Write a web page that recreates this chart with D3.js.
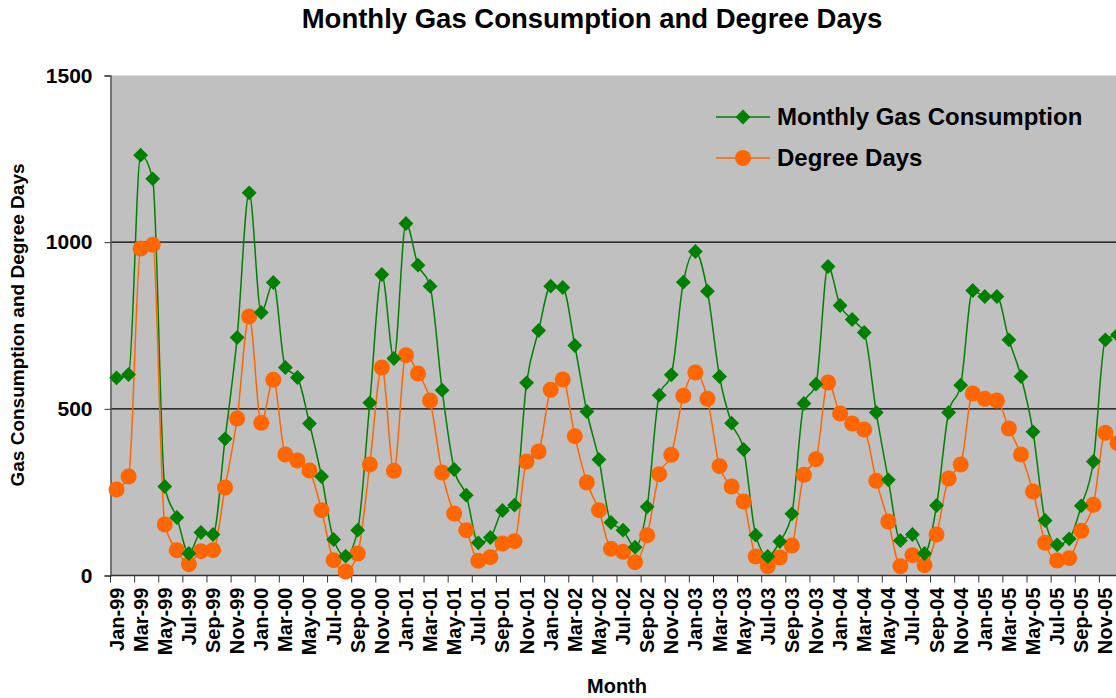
<!DOCTYPE html>
<html>
<head>
<meta charset="utf-8">
<script src="https://cdn.jsdelivr.net/npm/d3@7"></script>
<style>
  body { margin: 0; background: #fff; }
  svg text { font-family: "Liberation Sans Narrow", "Liberation Sans", Arial, sans-serif; font-weight: bold; }
</style>
</head>
<body>
<svg id="chart" width="1116" height="698"></svg>
<script>
// months Jan-99 .. Dec-05
var monthNames = ["Jan","Feb","Mar","Apr","May","Jun","Jul","Aug","Sep","Oct","Nov","Dec"];
var years = ["99","00","01","02","03","04","05"];
var months = [];
years.forEach(function(y){ monthNames.forEach(function(m){ months.push(m + "-" + y); }); });

// Monthly Gas Consumption
var gasValues = [
  593, 603, 1261, 1190, 267, 174, 66, 129, 123, 410, 714, 1148,
  789, 879, 624, 594, 456, 297, 108, 58, 136, 518, 903, 651,
  1056, 931, 868, 556, 318, 241, 98, 114, 195, 211, 578, 735,
  868, 864, 690, 492, 348, 159, 136, 85, 206, 541, 602, 880,
  972, 853, 597, 457, 378, 121, 57, 102, 185, 516, 574, 927,
  810, 768, 729, 489, 287, 105, 123, 66, 210, 489, 571, 855,
  837, 837, 707, 597, 431, 165, 92, 110, 209, 342, 707, 722
];

// Degree Days
var ddValues = [
  258, 297, 981, 992, 153, 76, 34, 73, 76, 264, 471, 777,
  458, 587, 363, 345, 315, 196, 46, 12, 66, 333, 624, 314,
  661, 606, 525, 309, 186, 136, 44, 55, 96, 103, 342, 372,
  557, 588, 418, 279, 196, 80, 71, 40, 121, 304, 362, 539,
  609, 530, 328, 267, 222, 57, 28, 54, 90, 302, 349, 579,
  486, 456, 438, 284, 162, 28, 61, 31, 123, 291, 333, 546,
  530, 525, 441, 363, 252, 98, 45, 52, 134, 212, 428, 397
];

var yTicks = [0, 500, 1000, 1500];
var seriesNames = ["Monthly Gas Consumption", "Degree Days"];
var gasColor = "#008000", ddColor = "#ff6600";

var svg = d3.select("#chart");
var plotL = 110.5, plotR = 1123.5, plotT = 75.5, plotB = 575.5;

var x = d3.scaleBand().domain(months).range([plotL, plotR]);
var y = d3.scaleLinear().domain([0, 1500]).range([plotB, plotT]);

// plot area
svg.append("rect")
  .attr("x", plotL).attr("y", plotT)
  .attr("width", plotR - plotL).attr("height", plotB - plotT)
  .attr("fill", "#c0c0c0");

// gridlines
svg.append("g").selectAll("line")
  .data([500, 1000])
  .enter().append("line")
  .attr("x1", plotL).attr("x2", plotR)
  .attr("y1", function(d){ return y(d); })
  .attr("y2", function(d){ return y(d); })
  .attr("stroke", "#000").attr("stroke-width", 1.2);

// y axis
var yAxis = svg.append("g")
  .attr("transform", "translate(" + plotL + ",0)")
  .call(d3.axisLeft(y).tickValues(yTicks).tickSize(6).tickPadding(12).tickFormat(d3.format("d")));
yAxis.select(".domain").attr("stroke", "#555").attr("stroke-width", 1.5);
yAxis.selectAll(".tick line").attr("stroke", "#333");
yAxis.selectAll("text").attr("font-size", 21).attr("fill", "#000");

// x axis: ticks between categories, every 2 months
var xg = svg.append("g").attr("transform", "translate(0," + plotB + ")");
xg.append("line").attr("x1", plotL).attr("x2", plotR).attr("stroke", "#333").attr("stroke-width", 1.5);
xg.selectAll("line.tk")
  .data(months.filter(function(d, i){ return i % 2 === 0; }))
  .enter().append("line")
  .attr("class", "tk")
  .attr("x1", function(d){ return x(d); })
  .attr("x2", function(d){ return x(d); })
  .attr("y1", 0).attr("y2", 7)
  .attr("stroke", "#333");
xg.selectAll("text")
  .data(months.filter(function(d, i){ return i % 2 === 0; }))
  .enter().append("text")
  .attr("transform", function(d){ return "translate(" + (x(d) + x.bandwidth() / 2 + 7) + ",12) rotate(-90)"; })
  .attr("text-anchor", "end")
  .attr("font-size", 20)
  .text(function(d){ return d; });

// lines
var cx = function(d, i){ return x(months[i]) + x.bandwidth() / 2; };
var line = d3.line().x(cx).y(function(d){ return y(d); }).curve(d3.curveMonotoneX);

svg.append("path").datum(gasValues)
  .attr("d", line).attr("fill", "none").attr("stroke", gasColor).attr("stroke-width", 1.5);
svg.append("path").datum(ddValues)
  .attr("d", line).attr("fill", "none").attr("stroke", ddColor).attr("stroke-width", 1.5);

// markers
var diamond = d3.symbol().type(d3.symbolSquare).size(110);
svg.append("g").selectAll("circle")
  .data(ddValues)
  .enter().append("circle")
  .attr("cx", cx)
  .attr("cy", function(d){ return y(d); })
  .attr("r", 8)
  .attr("fill", ddColor);
svg.append("g").selectAll("path")
  .data(gasValues)
  .enter().append("path")
  .attr("d", diamond)
  .attr("transform", function(d, i){ return "translate(" + cx(d, i) + "," + y(d) + ") rotate(45)"; })
  .attr("fill", gasColor);

// legend
var legend = svg.append("g");
var lg = legend.selectAll("g")
  .data(seriesNames)
  .enter().append("g")
  .attr("transform", function(d, i){ return "translate(716," + (117 + i * 41) + ")"; });
lg.append("line").attr("x1", 0).attr("x2", 54)
  .attr("stroke", function(d, i){ return i === 0 ? gasColor : ddColor; })
  .attr("stroke-width", 1.5);
lg.each(function(d, i){
  var g = d3.select(this);
  if (i === 0) {
    g.append("path").attr("d", diamond).attr("transform", "translate(27,0) rotate(45)").attr("fill", gasColor);
  } else {
    g.append("circle").attr("cx", 27).attr("r", 8).attr("fill", ddColor);
  }
});
lg.append("text").attr("x", 61).attr("y", 8).attr("font-size", 24).text(function(d){ return d; });

// titles
svg.append("text")
  .attr("x", 592).attr("y", 28)
  .attr("text-anchor", "middle").attr("font-size", 27.5)
  .text("Monthly Gas Consumption and Degree Days");
svg.append("text")
  .attr("transform", "translate(24,325) rotate(-90)")
  .attr("text-anchor", "middle").attr("font-size", 19)
  .text("Gas Consumption and Degree Days");
svg.append("text")
  .attr("x", 617).attr("y", 693)
  .attr("text-anchor", "middle").attr("font-size", 20)
  .text("Month");
</script>
</body>
</html>
